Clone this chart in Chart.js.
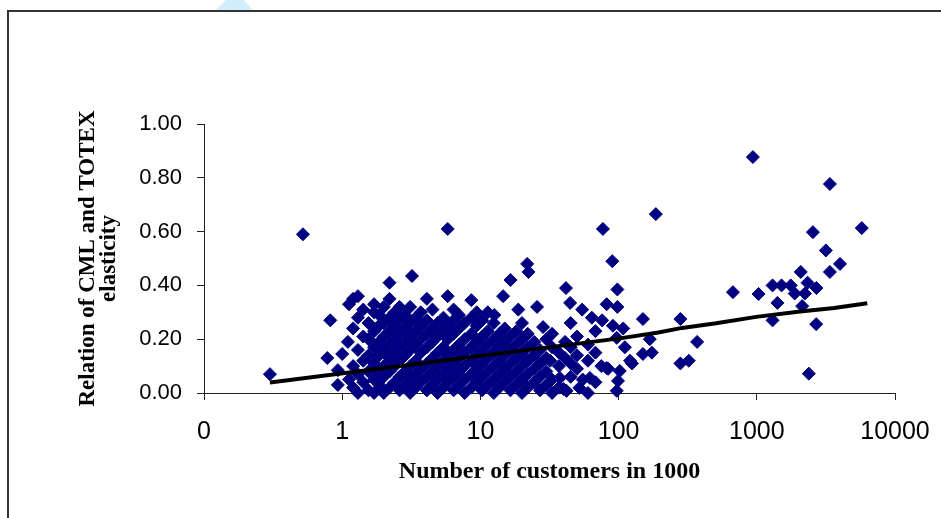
<!DOCTYPE html>
<html>
<head>
<meta charset="utf-8">
<script src="https://cdn.jsdelivr.net/npm/chart.js@4.4.1/dist/chart.umd.min.js"></script>
<style>
  html, body { margin: 0; padding: 0; background: #fff; }
  #chartBox { width: 941px; height: 518px; }
</style>
</head>
<body>
<div id="chartBox"><canvas id="elasticityChart" width="941" height="518"></canvas></div>
<script>
// [customers in 1000, relation of CML and TOTEX elasticity]
const observations = [
    [0.30,0.07],[0.52,0.59],[0.82,0.27],[0.78,0.13],[0.93,0.085],[0.93,0.03],[1.0,0.145],[1.1,0.19],
    [1.12,0.05],[1.12,0.33],
    [1.2,0.02],[1.2,0.10],[1.2,0.24],[1.2,0.35],
    [1.3,0.0],[1.3,0.07],[1.3,0.16],[1.3,0.28],[1.3,0.36],
    [1.42,0.04],[1.42,0.12],[1.42,0.21],[1.42,0.31],
    [1.55,0.01],[1.55,0.08],[1.55,0.14],[1.55,0.20],[1.55,0.26],
    [1.7,0.0],[1.7,0.05],[1.7,0.11],[1.7,0.17],[1.7,0.23],[1.7,0.30],[1.7,0.33],
    [1.85,0.03],[1.85,0.08],[1.85,0.14],[1.85,0.19],[1.85,0.25],[1.85,0.29],
    [2.0,0.0],[2.0,0.06],[2.0,0.10],[2.0,0.16],[2.0,0.21],[2.0,0.26],[2.0,0.32],
    [2.2,0.02],[2.2,0.08],[2.2,0.13],[2.2,0.18],[2.2,0.23],[2.2,0.28],[2.2,0.35],[2.2,0.41],
    [2.4,0.04],[2.4,0.10],[2.4,0.15],[2.4,0.20],[2.4,0.25],[2.4,0.30],
    [2.6,0.01],[2.6,0.06],[2.6,0.12],[2.6,0.17],[2.6,0.22],[2.6,0.27],[2.6,0.32],
    [2.85,0.03],[2.85,0.08],[2.85,0.14],[2.85,0.19],[2.85,0.24],[2.85,0.29],
    [3.1,0.0],[3.1,0.05],[3.1,0.10],[3.1,0.16],[3.1,0.21],[3.1,0.26],[3.1,0.32],[3.2,0.435],
    [3.4,0.02],[3.4,0.07],[3.4,0.12],[3.4,0.18],[3.4,0.23],[3.4,0.28],
    [3.7,0.04],[3.7,0.09],[3.7,0.15],[3.7,0.20],[3.7,0.25],[3.7,0.30],
    [4.1,0.01],[4.1,0.06],[4.1,0.11],[4.1,0.17],[4.1,0.22],[4.1,0.27],[4.1,0.35],
    [4.5,0.03],[4.5,0.08],[4.5,0.13],[4.5,0.19],[4.5,0.24],[4.5,0.31],
    [4.9,0.0],[4.9,0.05],[4.9,0.10],[4.9,0.15],[4.9,0.21],[4.9,0.26],
    [5.4,0.02],[5.4,0.07],[5.4,0.12],[5.4,0.17],[5.4,0.23],[5.4,0.28],
    [5.8,0.04],[5.8,0.09],[5.8,0.14],[5.8,0.20],[5.8,0.25],[5.8,0.36],[5.8,0.61],
    [6.4,0.01],[6.4,0.06],[6.4,0.11],[6.4,0.16],[6.4,0.22],[6.4,0.27],[6.4,0.31],
    [7.0,0.03],[7.0,0.08],[7.0,0.13],[7.0,0.18],[7.0,0.24],[7.0,0.29],
    [7.7,0.0],[7.7,0.05],[7.7,0.10],[7.7,0.15],[7.7,0.20],[7.7,0.26],
    [8.6,0.02],[8.6,0.07],[8.6,0.12],[8.6,0.17],[8.6,0.22],[8.6,0.28],[8.6,0.345],
    [9.4,0.04],[9.4,0.09],[9.4,0.14],[9.4,0.19],[9.4,0.25],[9.4,0.30],
    [10.3,0.01],[10.3,0.06],[10.3,0.11],[10.3,0.16],[10.3,0.21],[10.3,0.27],
    [11.3,0.03],[11.3,0.08],[11.3,0.13],[11.3,0.18],[11.3,0.23],[11.3,0.30],
    [12.5,0.0],[12.5,0.05],[12.5,0.10],[12.5,0.15],[12.5,0.20],[12.5,0.26],[12.6,0.29],
    [13.7,0.02],[13.7,0.07],[13.7,0.12],[13.7,0.17],[13.7,0.22],[14.6,0.36],
    [15.0,0.04],[15.0,0.09],[15.0,0.14],[15.0,0.19],[15.0,0.24],
    [16.5,0.01],[16.5,0.06],[16.5,0.11],[16.5,0.16],[16.5,0.21],[16.5,0.42],
    [18.2,0.03],[18.2,0.08],[18.2,0.13],[18.2,0.18],[18.2,0.23],[18.8,0.31],
    [20,0.0],[20,0.05],[20,0.10],[20,0.15],[20,0.20],[20,0.26],
    [22,0.02],[22,0.07],[22,0.12],[22,0.17],[22,0.22],[22.3,0.45],[21.8,0.48],
    [24.5,0.04],[24.5,0.09],[24.5,0.14],[24.5,0.19],[25.7,0.32],
    [27,0.01],[27,0.06],[27,0.11],[27,0.16],[28.4,0.245],
    [30,0.03],[30,0.08],[30,0.13],[30,0.20],
    [33,0.0],[33,0.05],[32,0.12],[33,0.17],[33,0.22],
    [37,0.02],[37.6,0.056],[37,0.10],[37,0.15],
    [40,0.015],[42,0.008],[41,0.13],[41,0.19],[41.6,0.39],
    [45,0.06],[45,0.11],[45,0.17],[44.6,0.335],[45,0.26],
    [52,0.019],[50,0.09],[50,0.14],[50,0.21],[54.5,0.31],[55,0.05],
    [62,0.056],[60,0.0],[60,0.12],[60,0.18],[64,0.28],
    [68,0.04],[68,0.15],[68,0.23],
    [75,0.10],[76,0.27],[77,0.61],
    [82,0.093],[82,0.33],[84,0.09],[91,0.25],[90,0.49],
    [97,0.008],[99,0.045],[102,0.082],[97,0.205],[98,0.32],[98,0.385],
    [111,0.17],[121,0.12],[125,0.11],[108,0.24],
    [150,0.145],[150,0.275],[168,0.2],[174,0.15],[186,0.665],
    [280,0.11],[280,0.275],[322,0.12],[370,0.19],
    [672,0.375],[937,0.877],[1030,0.368],[1300,0.40],[1300,0.27],[1410,0.335],
    [1510,0.40],[1760,0.40],[1880,0.37],[2080,0.45],[2130,0.323],[2230,0.37],
    [2330,0.41],[2380,0.072],[2546,0.598],[2690,0.256],[2700,0.39],[3160,0.53],
    [3380,0.45],[3380,0.777],[4000,0.48],[5750,0.613]
];

// fitted trend
const trendCustomers = [0.30, 10, 102, 194, 288, 508, 990, 2060, 3630, 6300];
const trendElasticity = [0.039, 0.138, 0.203, 0.225, 0.242, 0.259, 0.283, 0.303, 0.316, 0.334];

const xTickValues = [0.1, 1, 10, 100, 1000, 10000];
const xTickLabels = ['0', '1', '10', '100', '1000', '10000'];
const yTickValues = [0, 0.2, 0.4, 0.6, 0.8, 1.0];

const axisColor = '#222';

// grey frame round the picture and the small blue mark above it
const framePlugin = {
    id: 'frame',
    beforeDraw(chart) {
        const ctx = chart.ctx;
        ctx.save();
        ctx.fillStyle = '#fff';
        ctx.fillRect(0, 0, chart.width, chart.height);
        ctx.fillStyle = '#d2edfb';
        ctx.beginPath();
        ctx.moveTo(215, 11);
        ctx.lineTo(253, 11);
        ctx.lineTo(244, 0);
        ctx.lineTo(226, 0);
        ctx.closePath();
        ctx.fill();
        ctx.strokeStyle = '#333';
        ctx.lineWidth = 2;
        ctx.beginPath();
        ctx.moveTo(8, chart.height + 2);
        ctx.lineTo(8, 11);
        ctx.lineTo(chart.width + 2, 11);
        ctx.stroke();
        ctx.restore();
    }
};

document.addEventListener("DOMContentLoaded", () => {
    const ctx = document.getElementById('elasticityChart').getContext('2d');

    new Chart(ctx, {
        data: {
            datasets: [
                {
                    type: 'line',
                    label: 'Trend',
                    data: trendCustomers.map((c, i) => ({ x: c, y: trendElasticity[i] })),
                    borderColor: '#000',
                    borderWidth: 4,
                    pointRadius: 0,
                    tension: 0,
                    fill: false,
                    order: 0,
                    clip: false
                },
                {
                    type: 'scatter',
                    label: 'Observations',
                    data: observations.map(p => ({ x: p[0], y: p[1] })),
                    pointStyle: 'rectRot',
                    pointRadius: 6.5,
                    pointHoverRadius: 6.5,
                    backgroundColor: '#000080',
                    borderColor: '#000080',
                    borderWidth: 1,
                    order: 1,
                    clip: false
                }
            ]
        },
        options: {
            responsive: false,
            animation: false,
            events: [],
            layout: { padding: { left: 0, top: 124, right: 46, bottom: 0 } },
            plugins: {
                legend: { display: false },
                tooltip: { enabled: false }
            },
            scales: {
                x: {
                    type: 'logarithmic',
                    position: 'bottom',
                    min: 0.1,
                    max: 10000,
                    afterBuildTicks: scale => {
                        scale.ticks = xTickValues.map(v => ({ value: v }));
                    },
                    afterFit: scale => {
                        scale.height = 125;
                        scale.paddingLeft = 0;
                        scale.paddingRight = 0;
                    },
                    grid: { drawOnChartArea: false, drawTicks: true, tickLength: 7, color: axisColor, lineWidth: 1 },
                    border: { display: true, color: axisColor, width: 1 },
                    ticks: {
                        padding: 17,
                        color: '#000',
                        maxRotation: 0,
                        autoSkip: false,
                        font: { family: '"Liberation Sans", Arial, sans-serif', size: 25 },
                        callback: (value, index) => xTickLabels[index]
                    },
                    title: {
                        display: true,
                        text: 'Number of customers in 1000',
                        color: '#000',
                        font: { family: '"Liberation Serif", "Times New Roman", serif', size: 24, weight: 'bold', lineHeight: 1.2 },
                        padding: { top: 0, bottom: 32 }
                    }
                },
                y: {
                    type: 'linear',
                    min: 0,
                    max: 1,
                    afterBuildTicks: scale => {
                        scale.ticks = yTickValues.map(v => ({ value: v }));
                    },
                    afterFit: scale => { scale.width = 204; },
                    grid: { drawOnChartArea: false, drawTicks: true, tickLength: 7, color: axisColor, lineWidth: 1 },
                    border: { display: true, color: axisColor, width: 1 },
                    ticks: {
                        padding: 15,
                        color: '#000',
                        font: { family: '"Liberation Sans", Arial, sans-serif', size: 22 },
                        callback: value => value.toFixed(2)
                    },
                    title: {
                        display: true,
                        text: ['Relation of CML and TOTEX', 'elasticity'],
                        color: '#000',
                        font: { family: '"Liberation Serif", "Times New Roman", serif', size: 23, weight: 'bold', lineHeight: 0.9 },
                        padding: { top: 78, bottom: 0 }
                    }
                }
            }
        },
        plugins: [framePlugin]
    });
});
</script>
</body>
</html>
